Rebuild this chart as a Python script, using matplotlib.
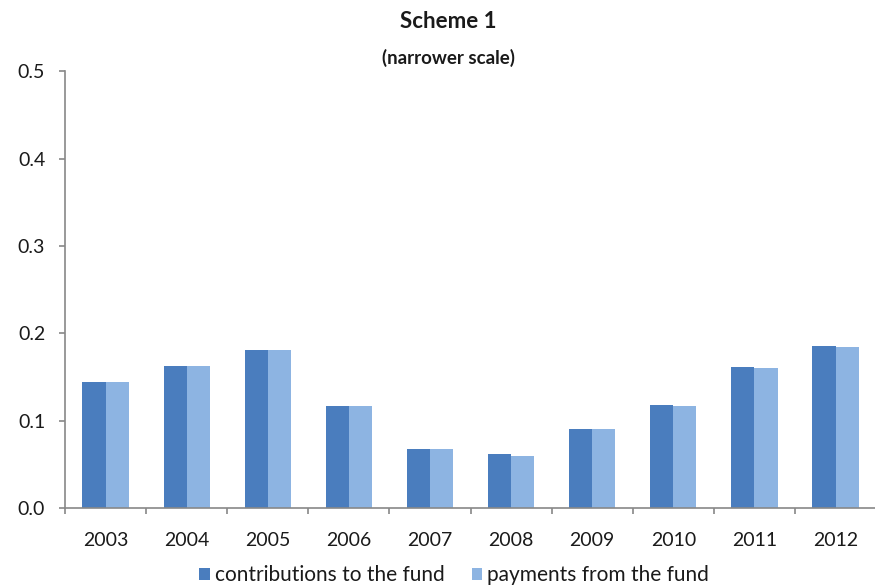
import matplotlib
matplotlib.use("Agg")
import matplotlib.pyplot as plt
import numpy as np

years = ["2003", "2004", "2005", "2006", "2007", "2008", "2009", "2010", "2011", "2012"]
contributions = [0.144, 0.162, 0.181, 0.117, 0.068, 0.062, 0.090, 0.118, 0.161, 0.186]
payments = [0.144, 0.162, 0.181, 0.117, 0.067, 0.060, 0.090, 0.117, 0.160, 0.184]
yticks = [0.0, 0.1, 0.2, 0.3, 0.4, 0.5]

plt.rcParams['font.family'] = ['Lato', 'DejaVu Sans']

fig = plt.figure(figsize=(8.75, 5.88), dpi=100)
ax = fig.add_axes([0.0743, 0.136, 0.927, 0.743])

x = np.arange(len(years))
w = 0.285
ax.bar(x - w/2, contributions, width=w, color="#4A7DBE", label="contributions to the fund")
ax.bar(x + w/2, payments, width=w, color="#8DB4E2", label="payments from the fund")

ax.set_xlim(-0.5, len(years) - 0.5)
ax.set_ylim(0, 0.5)
ax.set_yticks(yticks)
ax.set_yticklabels([f"{v:.1f}" for v in yticks], fontsize=14, color="#1a1a1a")
ax.set_xticks(x)
ax.set_xticklabels(years, fontsize=14, color="#1a1a1a")
ax.tick_params(axis='x', length=0, pad=17)
ax.set_xticks(np.arange(len(years) + 1) - 0.5, minor=True)
ax.tick_params(axis='x', which='minor', length=4.3, width=1.2, color="#888888", direction='out')
ax.tick_params(axis='y', length=4.3, width=1.2, color="#888888", pad=10)

for s in ["top", "right"]:
    ax.spines[s].set_visible(False)
ax.spines["left"].set_color("#888888")
ax.spines["bottom"].set_color("#888888")
ax.spines["left"].set_linewidth(1.2)
ax.spines["bottom"].set_linewidth(1.2)

fig.text(0.512, 0.963, "Scheme 1", ha="center", va="center", fontsize=16, fontweight="bold", color="#1a1a1a")
fig.text(0.512, 0.901, "(narrower scale)", ha="center", va="center", fontsize=13.5, fontweight="bold", color="#1a1a1a")

leg = fig.legend(loc="center", bbox_to_anchor=(0.519, 0.022), ncol=2, frameon=False,
           fontsize=15, handlelength=0.5, handleheight=0.5, handletextpad=0.25,
           columnspacing=1.3, borderpad=0)
for t in leg.get_texts():
    t.set_color("#1a1a1a")

fig.savefig("out.png", dpi=100)
